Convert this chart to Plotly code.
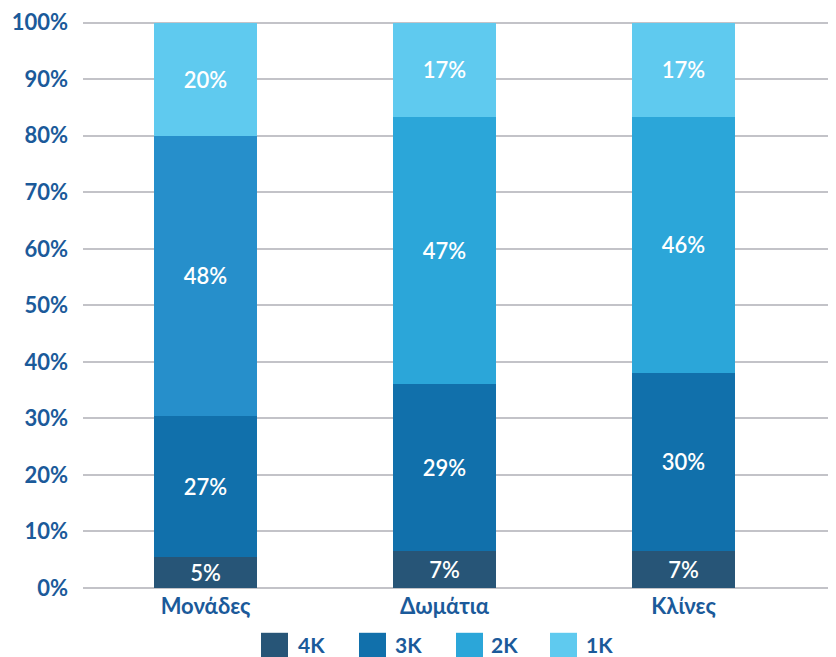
import plotly.graph_objects as go

categories = ["Μονάδες", "Δωμάτια", "Κλίνες"]
series_names = ["4K", "3K", "2K", "1K"]
# segment heights (percent of total)
values_4k = [5.4, 6.6, 6.6]
values_3k = [25.0, 29.5, 31.5]
values_2k = [49.6, 47.2, 45.2]
values_1k = [20.0, 16.7, 16.7]
# labels printed on the bars
labels_4k = ["5%", "7%", "7%"]
labels_3k = ["27%", "29%", "30%"]
labels_2k = ["48%", "47%", "46%"]
labels_1k = ["20%", "17%", "17%"]
y_ticks = [0, 10, 20, 30, 40, 50, 60, 70, 80, 90, 100]
y_tick_labels = [f"{v}%" for v in y_ticks]

colors_4k = ["#275577"] * 3
colors_3k = ["#1170AB"] * 3
colors_2k = ["#268FCB", "#2BA6D9", "#2BA6D9"]
colors_1k = ["#5FCAEF"] * 3
legend_colors = ["#275577", "#1170AB", "#2BA6D9", "#5FCAEF"]

FONT = "Lato"
BLUE = "#1B5A9A"

# the page body has an 8px margin; the figure is sized to fill the rest
OFF = 8
Y_TOP = 100.3
W, H = 836 - OFF, 657 - OFF
PX_PER_PCT = (588 - 20) / 100.0
MB = 69
ML, MR = 83 - OFF, 0
MT = (20 - OFF) - (Y_TOP - 100) * PX_PER_PCT
PW, PH = W - ML - MR, H - MT - MB

fig = go.Figure()
for name, vals, labs, cols in [
    ("4K", values_4k, labels_4k, colors_4k),
    ("3K", values_3k, labels_3k, colors_3k),
    ("2K", values_2k, labels_2k, colors_2k),
    ("1K", values_1k, labels_1k, colors_1k),
]:
    fig.add_trace(go.Bar(
        x=list(range(len(categories))), y=vals, name=name,
        text=labs, textposition="inside", insidetextanchor="middle",
        textangle=0, textfont=dict(family=FONT, size=22, color="white", weight=600),
        marker=dict(color=cols, line=dict(width=0)),
        width=0.431, showlegend=False, hoverinfo="skip",
    ))

def px_to_paper(px, py):
    # px, py are screen pixels
    fx, fy = px - OFF, py - OFF
    return (fx - ML) / PW, (H - MB - fy) / PH

shapes = []
annotations = []
legend_sq_x = [261, 359, 456, 550]
legend_txt_x = [296, 393, 489, 584]
for i, name in enumerate(series_names):
    x0, y0 = px_to_paper(legend_sq_x[i], 633)
    x1, y1 = px_to_paper(legend_sq_x[i] + 27, 660)
    shapes.append(dict(type="rect", xref="paper", yref="paper", x0=x0, x1=x1,
                       y0=y1, y1=y0, fillcolor=legend_colors[i], line=dict(width=0)))
    tx, ty = px_to_paper(legend_txt_x[i], 645)
    annotations.append(dict(text=name, xref="paper", yref="paper", x=tx, y=ty,
                            xanchor="left", yanchor="middle", showarrow=False,
                            font=dict(family=FONT, size=21, color=BLUE, weight=700)))

fig.update_layout(
    width=W, height=H,
    margin=dict(l=ML, r=MR, t=MT, b=MB, pad=0),
    barmode="stack",
    plot_bgcolor="white", paper_bgcolor="white",
    uniformtext=dict(minsize=22, mode="show"),
    shapes=shapes, annotations=annotations,
    xaxis=dict(
        range=[-0.5126, 2.638], tickmode="array",
        tickvals=list(range(len(categories))), ticktext=categories,
        showgrid=False, zeroline=False, showline=False,
        tickfont=dict(family=FONT, size=22, color=BLUE, weight=700),
        ticks="", ticklabelstandoff=3,
    ),
    yaxis=dict(
        range=[0, Y_TOP], tickmode="array", tickvals=y_ticks, ticktext=y_tick_labels,
        showgrid=True, gridcolor="#C3C3C8", gridwidth=2,
        zeroline=True, zerolinecolor="#C3C3C8", zerolinewidth=2,
        showline=False, ticks="", ticklabelstandoff=14,
        ticklabeloverflow="allow",
        tickfont=dict(family=FONT, size=22, color=BLUE, weight=700),
    ),
)

fig.write_html("out.html")
